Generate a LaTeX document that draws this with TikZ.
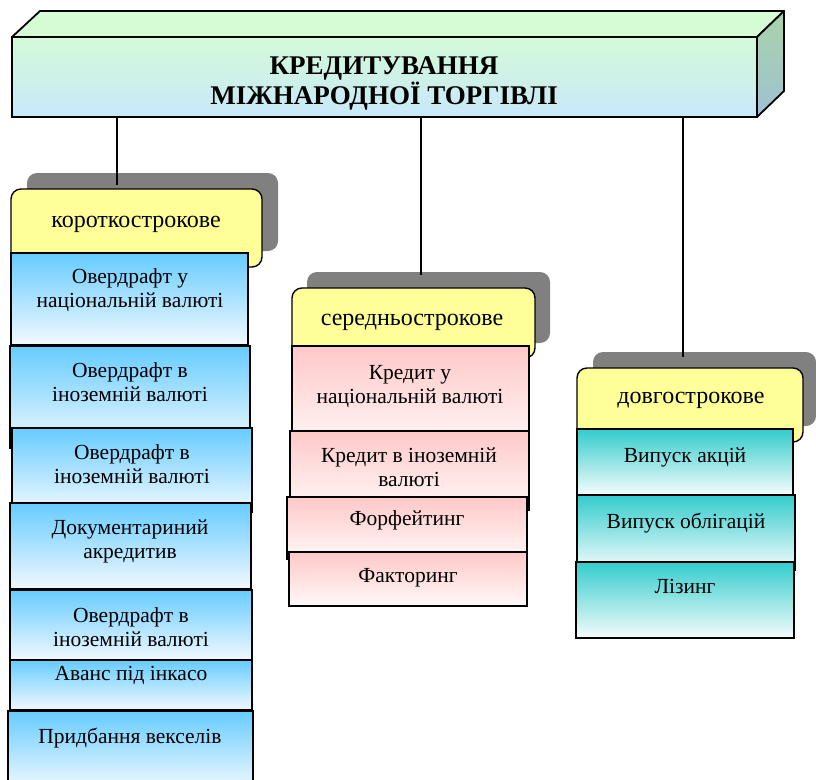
\documentclass[tikz,border=0pt]{standalone}
\usepackage{fontspec}
\setmainfont{Liberation Serif}
\usetikzlibrary{calc}
\definecolor{cBlueT}{RGB}{102,204,255}
\definecolor{cBlueB}{RGB}{242,249,255}
\definecolor{cPinkT}{RGB}{255,200,200}
\definecolor{cPinkB}{RGB}{255,248,248}
\definecolor{cTealT}{RGB}{51,204,204}
\definecolor{cTealB}{RGB}{246,252,252}
\definecolor{cYel}{RGB}{255,255,153}
\definecolor{cShadow}{RGB}{128,128,128}
\definecolor{cTop}{RGB}{214,252,214}
\definecolor{cFrontT}{RGB}{212,250,214}
\definecolor{cFrontB}{RGB}{200,232,250}
\definecolor{cSideT}{RGB}{168,212,168}
\definecolor{cSideB}{RGB}{160,192,212}
\newcommand\boxat[6]{\node[#2, minimum width=#5-#3, minimum height=#6-#4] (#1) at (#3,#4) {};}
\begin{document}
\begin{tikzpicture}[x=1pt,y=-1pt,
  every node/.style={inner sep=0pt, outer sep=0pt},
  frame/.style={draw=black, line width=1.4pt},
  bluebox/.style={frame, top color=cBlueT, bottom color=cBlueB, anchor=north west},
  pinkbox/.style={frame, top color=cPinkT, bottom color=cPinkB, anchor=north west},
  tealbox/.style={frame, top color=cTealT, bottom color=cTealB, anchor=north west},
  hdrbox/.style={frame, fill=cYel, rounded corners=10pt, anchor=north west},
  shadowbox/.style={fill=cShadow, rounded corners=10pt, anchor=north west},
  txt/.style={font=\fontsize{21.5}{24}\selectfont, align=center, anchor=north},
  txtone/.style={font=\fontsize{21.5}{24}\selectfont, anchor=base},
  hdrtxt/.style={font=\fontsize{24}{28}\selectfont, anchor=base},
  conn/.style={draw=black, line width=1.4pt}
]
\useasboundingbox (0,0) rectangle (816,779);
\clip (0,0) rectangle (816,779);
% title block
\node[draw=black, line width=1.8pt, top color=cFrontT, bottom color=cFrontB,
      minimum width=745, minimum height=80, anchor=north west] (title) at (12,37) {};
\path[draw=black, line width=1.8pt, line join=round, fill=cTop]
  (title.north west) -- ++(28,-26) -- ($(title.north east)+(27,-26)$) -- (title.north east) -- cycle;
\path[draw=black, line width=1.8pt, line join=round, top color=cSideT, bottom color=cSideB]
  (title.north east) -- ++(27,-26) -- ++(0,80) -- (title.south east) -- cycle;
\node[font=\bfseries\fontsize{27}{30}\selectfont, align=center, anchor=north] (ttext) at (384,57)
  {КРЕДИТУВАННЯ\\МІЖНАРОДНОЇ ТОРГІВЛІ};
% shadows
\boxat{sL}{shadowbox}{27}{173}{278}{251}
\boxat{sM}{shadowbox}{307}{272}{550}{343}
\boxat{sR}{shadowbox}{593}{352}{816}{426}
% connectors
\coordinate (c1) at (117,185);
\coordinate (c2) at (421,275);
\coordinate (c3) at (683,357);
\draw[conn] (title.south -| c1) -- (c1);
\draw[conn] (title.south -| c2) -- (c2);
\draw[conn] (title.south -| c3) -- (c3);
% headers
\boxat{hL}{hdrbox}{11}{189}{262}{267}
\boxat{hM}{hdrbox}{292}{288}{535}{358}
\boxat{hR}{hdrbox}{577}{368}{803}{442}
\node[hdrtxt] (hLt) at (136,227) {короткострокове};
\node[hdrtxt] (hMt) at (412,325) {середньострокове};
\node[hdrtxt] (hRt) at (691,403) {довгострокове};
% left column
\boxat{L1}{bluebox}{11}{253}{248}{345}
\boxat{L2}{bluebox}{10}{346}{250}{448}
\boxat{L3}{bluebox}{12}{428}{252}{512}
\boxat{L4}{bluebox}{10}{503}{251}{589}
\boxat{L5}{bluebox}{10}{590}{252}{660}
\boxat{L6}{bluebox}{10}{660}{252}{710}
\boxat{L7}{bluebox}{8}{711}{253}{790}
\node[txt] (L1t) at (130,268.5) {Овердрафт у\\національній валюті};
\node[txt] (L2t) at (130,362.5) {Овердрафт в\\іноземній валюті};
\node[txt] (L3t) at (132,444.5) {Овердрафт в\\іноземній валюті};
\node[txt] (L4t) at (130,519.5) {Документариний\\акредитив};
\node[txt] (L5t) at (131,607.5) {Овердрафт в\\іноземній валюті};
\node[txtone] (L6t) at (131,680) {Аванс під інкасо};
\node[txtone] (L7t) at (130,743) {Придбання векселів};
% middle column
\boxat{M1}{pinkbox}{292}{346}{529}{450}
\boxat{M2}{pinkbox}{290}{431}{529}{510}
\boxat{M3}{pinkbox}{287}{497}{527}{559}
\boxat{M4}{pinkbox}{289}{552}{527}{606}
\node[txt] (M1t) at (410,365.5) {Кредит у\\національній валюті};
\node[txt] (M2t) at (409,447.5) {Кредит в іноземній\\валюті};
\node[txtone] (M3t) at (407,525) {Форфейтинг};
\node[txtone] (M4t) at (408,582) {Факторинг};
% right column
\boxat{R1}{tealbox}{577}{429}{793}{495}
\boxat{R2}{tealbox}{577}{495}{795}{570}
\boxat{R3}{tealbox}{576}{562}{794}{638}
\node[txtone] (R1t) at (685,462) {Випуск акцій};
\node[txtone] (R2t) at (686,528) {Випуск облігацій};
\node[txtone] (R3t) at (685,593) {Лізинг};
\end{tikzpicture}
\end{document}
